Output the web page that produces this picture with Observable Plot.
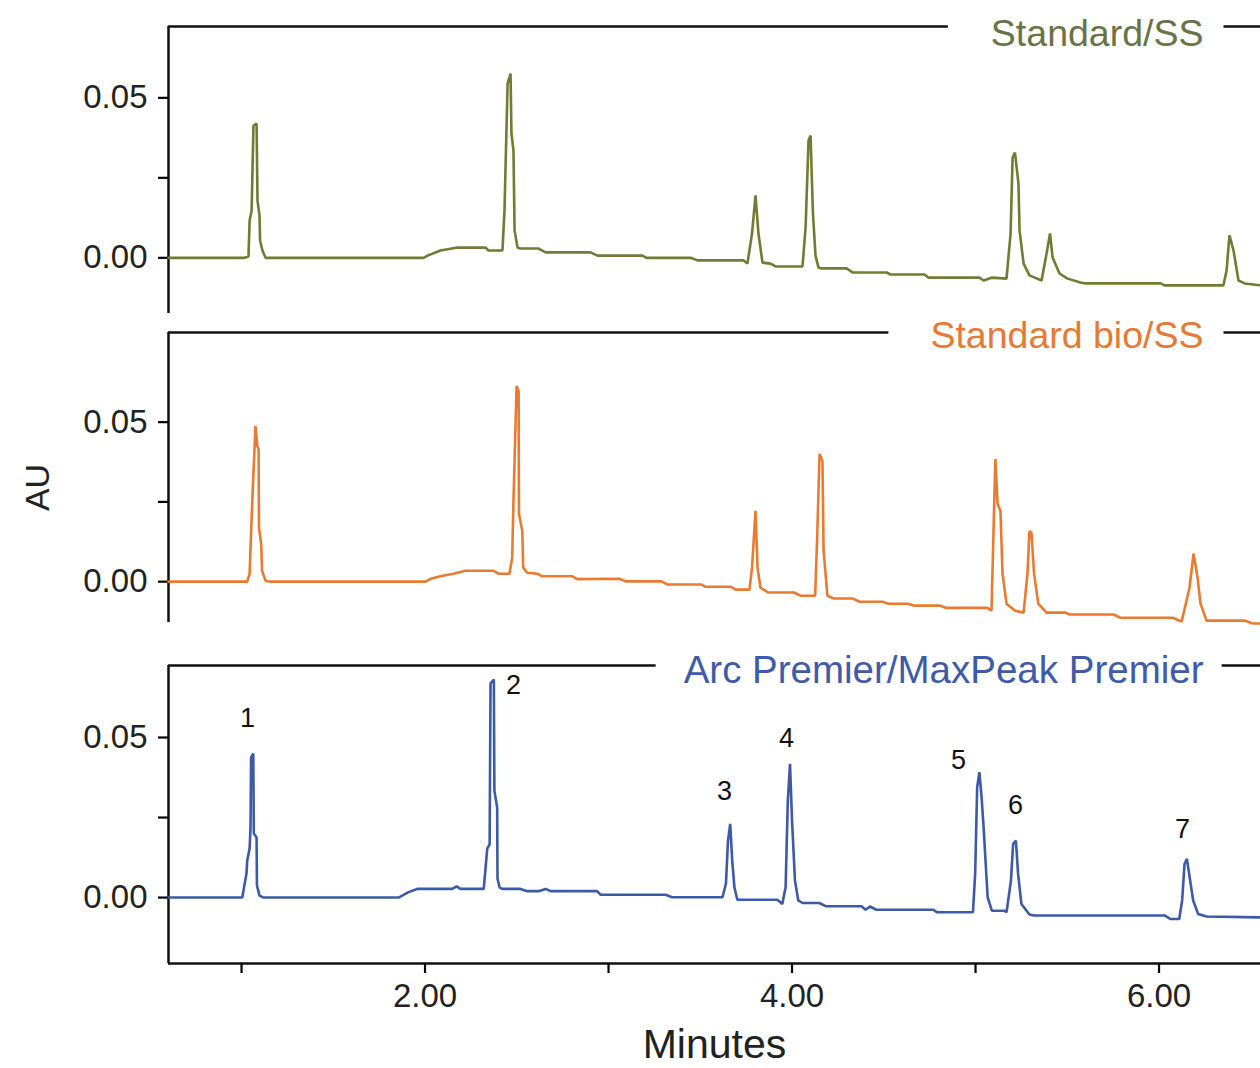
<!DOCTYPE html>
<html>
<head>
<meta charset="utf-8">
<script src="https://cdn.jsdelivr.net/npm/d3@7"></script>
<script src="https://cdn.jsdelivr.net/npm/@observablehq/plot@0.6"></script>
<style>
  html, body { margin: 0; padding: 0; background: #fff; }
  #chart { width: 1260px; }
  #chart svg { display: block; overflow: visible; }
</style>
</head>
<body>
<div id="chart"></div>
<script>
// ---------- data (minutes, AU) ----------
const ssT  = [0.602,1.016,1.038,1.044,1.055,1.065,1.082,1.087,1.098,1.101,1.114,1.131,1.992,2.014,2.084,2.177,2.330,2.346,2.422,2.433,2.450,2.466,2.471,2.482,2.488,2.504,2.520,2.619,2.657,2.902,2.940,3.185,3.207,3.447,3.485,3.736,3.757,3.782,3.801,3.817,3.839,3.883,3.910,4.057,4.074,4.090,4.101,4.114,4.128,4.144,4.161,4.297,4.332,4.515,4.537,4.722,4.744,5.022,5.044,5.087,5.169,5.191,5.202,5.215,5.234,5.240,5.262,5.294,5.360,5.387,5.406,5.420,5.458,5.501,5.572,5.599,6.008,6.030,6.351,6.368,6.384,6.406,6.433,6.466,6.553];
const ssAU = [0,0,0.0004,0.0117,0.0148,0.0413,0.0420,0.0179,0.0132,0.0054,0.0023,0,0,0.0007,0.0023,0.0032,0.0032,0.0023,0.0023,0.0148,0.0545,0.0576,0.0388,0.0335,0.0085,0.0032,0.0029,0.0029,0.0017,0.0017,0.0007,0.0007,0,0,-0.0008,-0.0008,-0.0018,0.0076,0.0195,0.0076,-0.0015,-0.0018,-0.0027,-0.0027,0.0095,0.0367,0.0382,0.0138,0.0007,-0.0030,-0.0033,-0.0033,-0.0046,-0.0046,-0.0052,-0.0052,-0.0062,-0.0062,-0.0071,-0.0062,-0.0065,0.0076,0.0313,0.0329,0.0232,0.0085,-0.0018,-0.0055,-0.0071,0.0013,0.0076,0.0001,-0.0049,-0.0065,-0.0077,-0.0080,-0.0080,-0.0086,-0.0086,-0.0040,0.0070,0.0023,-0.0071,-0.0080,-0.0086];

const bioT  = [0.602,1.031,1.044,1.058,1.076,1.086,1.093,1.095,1.107,1.112,1.131,1.158,2.003,2.030,2.084,2.155,2.221,2.373,2.400,2.460,2.475,2.482,2.499,2.510,2.512,2.530,2.535,2.557,2.611,2.639,2.802,2.829,3.060,3.093,3.289,3.322,3.507,3.529,3.668,3.692,3.768,3.782,3.801,3.812,3.828,3.872,4.011,4.046,4.126,4.137,4.150,4.166,4.172,4.193,4.229,4.332,4.368,4.493,4.526,4.629,4.665,4.804,4.837,5.065,5.087,5.093,5.108,5.120,5.136,5.147,5.169,5.216,5.262,5.283,5.294,5.305,5.319,5.342,5.387,5.491,5.512,5.752,5.790,6.074,6.123,6.166,6.188,6.210,6.226,6.259,6.466,6.510,6.553];
const bioAU = [0,0,0.0025,0.0244,0.0488,0.0425,0.0416,0.0169,0.0119,0.0034,0.0003,0,0,0.0009,0.0017,0.0025,0.0034,0.0034,0.0025,0.0025,0.0075,0.0253,0.0613,0.0597,0.0213,0.0159,0.0044,0.0028,0.0025,0.0017,0.0017,0.0008,0.0009,0.0001,0.0001,-0.0009,-0.0009,-0.0016,-0.0016,-0.0025,-0.0025,0.0044,0.0222,0.0044,-0.0019,-0.0034,-0.0034,-0.0044,-0.0044,0.0138,0.0400,0.0378,0.0097,-0.0044,-0.0053,-0.0053,-0.0063,-0.0063,-0.0069,-0.0069,-0.0075,-0.0075,-0.0082,-0.0082,-0.0091,0.0044,0.0384,0.0244,0.0222,0.0025,-0.0069,-0.0091,-0.0097,0.0025,0.0159,0.0153,0.0025,-0.0069,-0.0097,-0.0097,-0.0103,-0.0103,-0.0113,-0.0113,-0.0125,-0.0019,0.0088,0.0013,-0.0069,-0.0122,-0.0122,-0.0131,-0.0131];

const arcT  = [0.602,1.004,1.027,1.031,1.044,1.049,1.052,1.064,1.067,1.082,1.084,1.098,1.120,1.856,1.910,1.957,2.148,2.172,2.193,2.320,2.339,2.352,2.357,2.375,2.378,2.393,2.395,2.406,2.421,2.520,2.557,2.619,2.657,2.684,2.938,2.956,3.311,3.346,3.621,3.640,3.651,3.663,3.674,3.686,3.702,3.920,3.947,3.965,3.977,3.989,4.000,4.016,4.034,4.057,4.149,4.183,4.379,4.401,4.425,4.459,4.768,4.791,4.986,4.998,5.009,5.021,5.033,5.044,5.066,5.089,5.158,5.169,5.193,5.205,5.220,5.232,5.250,5.294,5.319,6.030,6.063,6.110,6.126,6.139,6.152,6.167,6.186,6.213,6.259,6.553];
const arcAU = [0,0,0.0075,0.0116,0.0153,0.0220,0.0438,0.0450,0.0200,0.0188,0.0038,0.0006,0,0,0.0017,0.0027,0.0027,0.0035,0.0027,0.0027,0.0153,0.0166,0.0669,0.0681,0.0334,0.0282,0.0059,0.0032,0.0027,0.0027,0.0020,0.0020,0.0027,0.0020,0.0020,0.0009,0.0009,0.0001,0.0001,0.0044,0.0178,0.0230,0.0116,0.0032,-0.0007,-0.0007,-0.0020,0.0032,0.0303,0.0418,0.0241,0.0053,-0.0009,-0.0017,-0.0017,-0.0027,-0.0027,-0.0038,-0.0028,-0.0038,-0.0038,-0.0046,-0.0046,0.0074,0.0345,0.0392,0.0313,0.0220,0.0001,-0.0041,-0.0041,-0.0046,0.0053,0.0168,0.0178,0.0074,-0.0020,-0.0053,-0.0056,-0.0056,-0.0067,-0.0067,-0.0009,0.0105,0.0121,0.0063,-0.0009,-0.0051,-0.0059,-0.0062];

// peak labels on the bottom trace
const peakNames = ["1","2","3","4","5","6","7"];
const peakT     = [1.032,2.482,3.632,3.970,4.907,5.218,6.128];
const peakAU    = [0.0559,0.0663,0.0331,0.0497,0.0428,0.0288,0.0213];

const titles = ["Standard/SS","Standard bio/SS","Arc Premier/MaxPeak Premier"];
const colors = ["#727b33","#e97b30","#3d5aa6"];
const titleColors = ["#687346","#e57a35","#3e5aa8"];

const yTicks = [0, 0.025, 0.05];
const xTicks = [1, 2, 3, 4, 5, 6];
const xDomain = [0.602, 6.553];

// ---------- drawing ----------
const font = "'Liberation Sans', Arial, Helvetica, sans-serif";
const zip = (t, v) => t.map((d, i) => ({t: d, v: v[i]}));

function panel({t, au, idx, yDomain, height, marginTop, marginBottom, bottom, titleDy, titleSize, padL, padR, extra = []}) {
  const marks = [
    Plot.ruleX([xDomain[0]], {stroke: "#111", strokeWidth: 2.5}),
    Plot.ruleY([yDomain[1]], {stroke: "#111", strokeWidth: 2.5}),
    Plot.axisY({ticks: yTicks, tickFormat: d => d === 0.025 ? "" : d.toFixed(2), tickSize: 10, tickPadding: 11,
                fontSize: 33, strokeWidth: 2.2, label: null, fill: "#222"}),
    Plot.line(zip(t, au), {x: "t", y: "v", stroke: colors[idx], strokeWidth: 2.6, strokeLinejoin: "miter"}),
    Plot.text([titles[idx]], {frameAnchor: "top-right", textAnchor: "end", lineAnchor: "middle",
               dx: -57, dy: titleDy, fontSize: titleSize, fill: titleColors[idx]}),
    ...extra
  ];
  if (bottom) marks.unshift(Plot.ruleY([yDomain[0]], {stroke: "#111", strokeWidth: 2.5}));
  const svg = Plot.plot({
    width: 1260, height, marginLeft: 168, marginRight: 0, marginTop, marginBottom,
    style: {fontFamily: font, background: "white", overflow: "visible"},
    x: {domain: xDomain, ...(bottom ? {} : {axis: null})},
    y: {domain: yDomain},
    marks
  });
  return {svg, title: titles[idx], padL, padR};
}

const p1 = panel({t: ssT, au: ssAU, idx: 0, yDomain: [-0.0174, 0.0723], height: 322, marginTop: 26, marginBottom: 9,
                  bottom: false, titleDy: 7, titleSize: 37.5, padL: 43, padR: 20});
const p2 = panel({t: bioT, au: bioAU, idx: 1, yDomain: [-0.0128, 0.0781], height: 321, marginTop: 10, marginBottom: 21,
                  bottom: false, titleDy: 3, titleSize: 37.5, padL: 42, padR: 20,
                  extra: [Plot.text(["AU"], {frameAnchor: "left", textAnchor: "middle", lineAnchor: "middle", rotate: -90,
                                             dx: -130, dy: 10, fontSize: 34, fill: "#222"})]});
const p3 = panel({t: arcT, au: arcAU, idx: 2, yDomain: [-0.0206, 0.0725], height: 425, marginTop: 22, marginBottom: 105,
                  bottom: true, titleDy: 5, titleSize: 38.5, padL: 28, padR: 18,
                  extra: [
                    Plot.text(peakNames, {x: (d, i) => peakT[i], y: (d, i) => peakAU[i], text: d => d, fontSize: 27, fill: "#111"}),
                    Plot.axisX({ticks: xTicks, tickFormat: d => d % 2 === 0 ? d.toFixed(2) : "", tickSize: 10, tickPadding: 10,
                                fontSize: 33, strokeWidth: 2.2, label: null, fill: "#222"}),
                    Plot.text(["Minutes"], {frameAnchor: "bottom", lineAnchor: "middle", dy: 81, fontSize: 41, fill: "#222"})
                  ]});

// open a gap in each panel's top line behind its title
const chart = document.getElementById("chart");
for (const p of [p1, p2, p3]) {
  chart.appendChild(p.svg);
  const svgBox = p.svg.getBoundingClientRect();
  const textEl = Array.from(p.svg.querySelectorAll("text")).find(e => e.textContent === p.title);
  if (!textEl) continue;
  let top = textEl;
  while (top.parentNode && top.parentNode !== p.svg) top = top.parentNode;
  const b = textEl.getBoundingClientRect();
  const rect = document.createElementNS("http://www.w3.org/2000/svg", "rect");
  rect.setAttribute("x", b.left - svgBox.left - p.padL);
  rect.setAttribute("y", b.top - svgBox.top);
  rect.setAttribute("width", b.width + p.padL + p.padR);
  rect.setAttribute("height", b.height);
  rect.setAttribute("fill", "white");
  p.svg.insertBefore(rect, top);
}
</script>
</body>
</html>
